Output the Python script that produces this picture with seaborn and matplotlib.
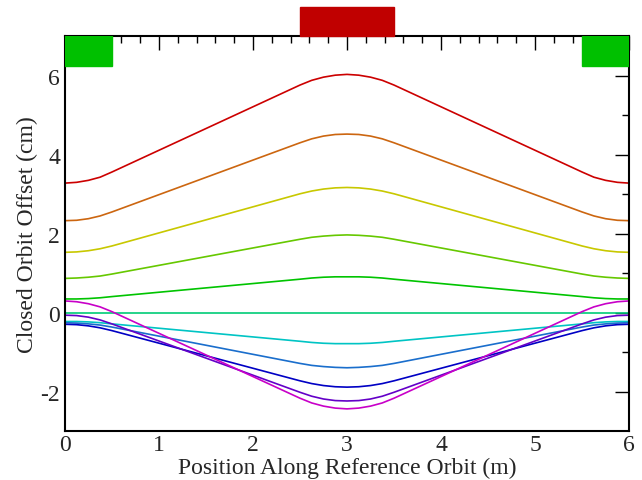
import numpy as np
import pandas as pd
import seaborn as sns
import matplotlib.pyplot as plt
from matplotlib.patches import Rectangle

# posiciones a lo largo de la órbita (m)
pos = [0, 0.125, 0.25, 0.375, 0.5, 2.5, 2.625, 2.75, 2.875, 3.0,
       3.125, 3.25, 3.375, 3.5, 5.5, 5.625, 5.75, 5.875, 6.0]

# desplazamiento de la órbita cerrada (cm), una serie por curva
rojo = [3.28, 3.30, 3.35, 3.43, 3.56, 5.76, 5.88, 5.96, 6.01, 6.03,
        6.01, 5.96, 5.88, 5.76, 3.56, 3.43, 3.35, 3.30, 3.28]
naranja = [2.33, 2.34, 2.38, 2.45, 2.55, 4.30, 4.40, 4.47, 4.51, 4.52,
           4.51, 4.47, 4.40, 4.30, 2.55, 2.45, 2.38, 2.34, 2.33]
amarillo = [1.53, 1.54, 1.57, 1.62, 1.69, 3.01, 3.08, 3.13, 3.16, 3.17,
            3.16, 3.13, 3.08, 3.01, 1.69, 1.62, 1.57, 1.54, 1.53]
lima = [0.87, 0.88, 0.90, 0.93, 0.98, 1.86, 1.91, 1.94, 1.96, 1.97,
        1.96, 1.94, 1.91, 1.86, 0.98, 0.93, 0.90, 0.88, 0.87]
verde = [0.35, 0.35, 0.36, 0.38, 0.41, 0.85, 0.88, 0.90, 0.91, 0.91,
         0.91, 0.90, 0.88, 0.85, 0.41, 0.38, 0.36, 0.35, 0.35]
turquesa = [0, 0, 0, 0, 0, 0, 0, 0, 0, 0,
            0, 0, 0, 0, 0, 0, 0, 0, 0]
cian = [-0.22, -0.22, -0.23, -0.25, -0.28, -0.72, -0.75, -0.77, -0.78, -0.78,
        -0.78, -0.77, -0.75, -0.72, -0.28, -0.25, -0.23, -0.22, -0.22]
azul = [-0.25, -0.26, -0.28, -0.31, -0.36, -1.28, -1.33, -1.36, -1.38, -1.39,
        -1.38, -1.36, -1.33, -1.28, -0.36, -0.31, -0.28, -0.26, -0.25]
azul_oscuro = [-0.29, -0.30, -0.33, -0.38, -0.45, -1.72, -1.79, -1.84, -1.87, -1.88,
               -1.87, -1.84, -1.79, -1.72, -0.45, -0.38, -0.33, -0.30, -0.29]
morado = [-0.06, -0.07, -0.11, -0.18, -0.28, -2.01, -2.11, -2.18, -2.22, -2.23,
          -2.22, -2.18, -2.11, -2.01, -0.28, -0.18, -0.11, -0.07, -0.06]
magenta = [0.30, 0.28, 0.23, 0.15, 0.03, -2.16, -2.28, -2.36, -2.41, -2.43,
           -2.41, -2.36, -2.28, -2.16, 0.03, 0.15, 0.23, 0.28, 0.30]

series = {
    'rojo': (rojo, '#cc0000'),
    'naranja': (naranja, '#cc6610'),
    'amarillo': (amarillo, '#c8c800'),
    'lima': (lima, '#66c800'),
    'verde': (verde, '#00c400'),
    'turquesa': (turquesa, '#00cc77'),
    'cian': (cian, '#00c4c4'),
    'azul': (azul, '#1a6ecc'),
    'azul_oscuro': (azul_oscuro, '#0000c4'),
    'morado': (morado, '#6400c8'),
    'magenta': (magenta, '#c800c8'),
}

# Tabla larga para seaborn
filas = []
for nombre, (vals, _) in series.items():
    for x, y in zip(pos, vals):
        filas.append({'pos': x, 'offset': y, 'curva': nombre})
data = pd.DataFrame(filas)
paleta = {nombre: c for nombre, (_, c) in series.items()}

sns.set_style('white')
plt.rcParams['font.family'] = ['Liberation Serif', 'DejaVu Serif']
plt.rcParams['axes.unicode_minus'] = False

fig = plt.figure(figsize=(6.42, 4.81), dpi=100)
ax = fig.add_axes([0.101, 0.101, 0.879, 0.822])

sns.lineplot(data=data, x='pos', y='offset', hue='curva', palette=paleta,
             linewidth=1.2, legend=False, sort=False, estimator=None, ax=ax)

# Elementos magnéticos (cuadrupolos en los extremos, dipolo en el centro)
ax.add_patch(Rectangle((0, 6.24), 0.5, 0.76, color='#00c000', zorder=5))
ax.add_patch(Rectangle((5.5, 6.24), 0.5, 0.76, color='#00c000', zorder=5))
ax.add_patch(Rectangle((2.5, 7.0), 1.0, 0.74, color='#c00000', zorder=5,
                       clip_on=False))

ax.set_xlim(0, 6)
ax.set_ylim(-3, 7)
ax.set_xticks(np.arange(0, 7, 1))
ax.set_xticks(np.arange(0, 6.01, 0.2), minor=True)
ax.set_yticks([-2, 0, 2, 4, 6])
ax.set_yticks([-1, 1, 3, 5], minor=True)
ax.tick_params(which='both', direction='in', top=True, right=True,
               labelsize=17, width=1, color='black')
ax.tick_params(which='major', length=10)
ax.tick_params(which='minor', length=5)
ax.tick_params(axis='x', pad=2)
for s in ax.spines.values():
    s.set_linewidth(1.5)
    s.set_color('black')

ax.set_xlabel('Position Along Reference Orbit (m)', fontsize=17, labelpad=1)
ax.set_ylabel('Closed Orbit Offset (cm)', fontsize=17, labelpad=2)

fig.savefig('out.png', dpi=100)
